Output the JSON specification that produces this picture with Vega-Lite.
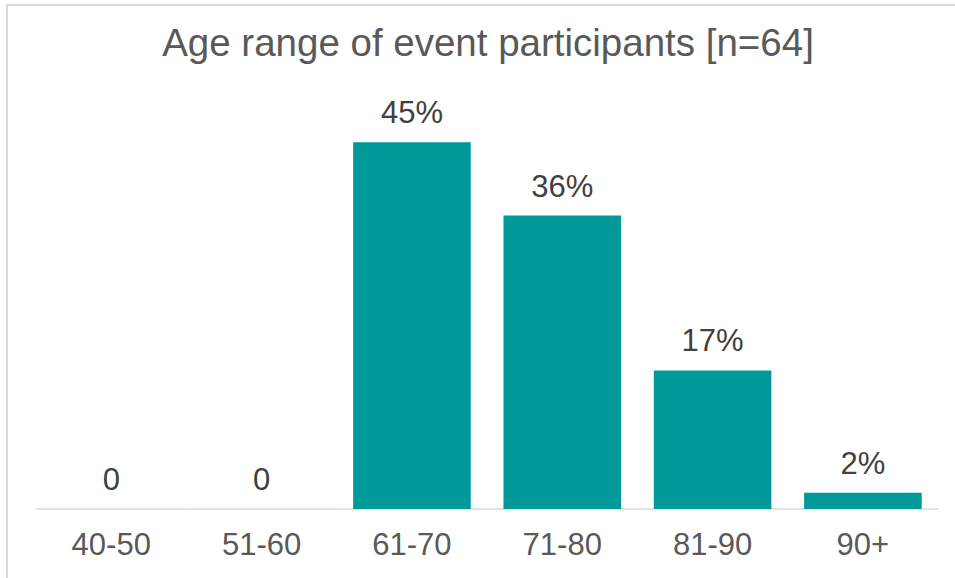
{
  "$schema": "https://vega.github.io/schema/vega-lite/v6.json",
  "width": 950,
  "height": 576,
  "autosize": {"type": "none"},
  "padding": {"left": 7, "top": 5, "right": 0, "bottom": 0},
  "background": "white",
  "config": {"font": "Liberation Sans", "view": {"stroke": "#d9d9d9", "strokeWidth": 2}},
  "title": {"text": "Age range of event participants [n=64]", "fontSize": 38.5, "fontWeight": "normal", "color": "#595959", "font": "Liberation Sans", "anchor": "middle", "frame": "group", "offset": -89, "baseline": "alphabetic", "dx": 6},
  "data": {"values": [
    {"age": "40-50", "pct": 0, "label": "0"},
    {"age": "51-60", "pct": 0, "label": "0"},
    {"age": "61-70", "pct": 45, "label": "45%"},
    {"age": "71-80", "pct": 36, "label": "36%"},
    {"age": "81-90", "pct": 17, "label": "17%"},
    {"age": "90+", "pct": 2, "label": "2%"}
  ]},
  "encoding": {
    "x": {"field": "age", "type": "nominal", "sort": null,
      "scale": {"paddingInner": 0.218, "paddingOuter": 0.2687, "align": 0.563},
      "axis": {"orient": "bottom", "offset": -72, "domain": false, "ticks": false, "labelFontSize": 31, "labelColor": "#595959", "labelPadding": 21, "labelAngle": 0, "title": null, "labelFont": "Liberation Sans"}}
  },
  "layer": [
    {"mark": {"type": "tick", "color": "#d9d9d9", "thickness": 2, "size": 150.4, "orient": "horizontal"},
     "encoding": {
       "y": {"datum": 0, "type": "quantitative", "scale": {"domain": [-8.83, 61.84], "nice": false, "zero": false}, "axis": null}}},
    {"mark": {"type": "bar", "color": "#009999"},
     "encoding": {
       "y": {"field": "pct", "type": "quantitative", "axis": null},
       "y2": {"datum": 0}}},
    {"mark": {"type": "text", "baseline": "alphabetic", "dy": -19, "fontSize": 31, "color": "#404040"},
     "encoding": {
       "y": {"field": "pct", "type": "quantitative"},
       "text": {"field": "label"}}}
  ]
}
